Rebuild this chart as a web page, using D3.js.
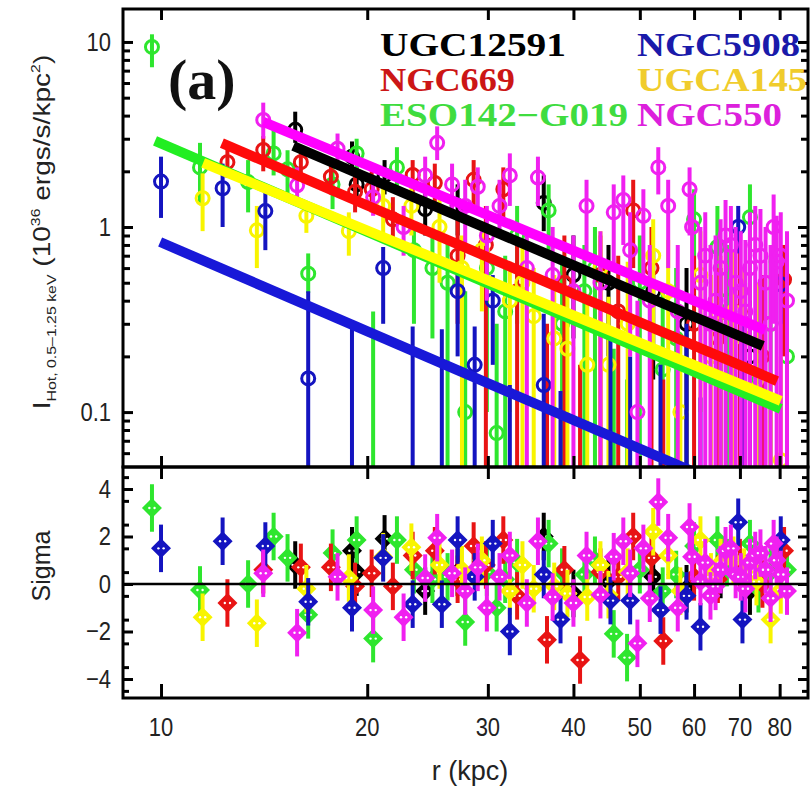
<!DOCTYPE html>
<html><head><meta charset="utf-8">
<script src="https://cdn.jsdelivr.net/npm/d3@7"></script>
<style>body{margin:0;background:#fff}svg{display:block}</style>
</head><body><svg id="c" width="810" height="788"></svg>
<script>
// ---------------- DATA ----------------
const galaxyNames = ["UGC12591","NGC669","ESO142\u2212G019","NGC5908","UGCA145","NGC550"];
// points: [r (kpc), I, I_low, I_high, sigma]
const UGC12591 = [
 [15.7,3.35,2.85,4.2,0.8],[19.0,2.4,2.0,2.9,1.4],[19.3,1.7,1.4,2.1,0.5],[21.2,1.9,1.5,2.3,1.9],
 [24.3,1.25,0.9,1.6,-0.3],[27.1,1.3,0.9,1.7,0.5],[36.2,1.35,0.95,1.9,2.0],[40.0,0.55,0.25,0.9,-0.4],
 [45.0,0.5,0.2,0.8,0.1],[52.3,0.45,0.15,0.75,0.3],[58.5,0.3,0.005,0.6,-0.2],[65.6,0.3,0.005,0.6,0.4],
 [72.4,0.2,0.005,0.5,-0.3]
];
const NGC669 = [
 [12.5,2.24,1.85,2.7,-0.8],[14.1,2.61,2.0,3.1,0.6],[16.0,2.24,1.8,2.7,0.7],[17.7,1.87,1.5,2.3,0.7],
 [19.2,1.55,1.2,1.9,-0.1],[20.3,1.6,1.2,2.0,0.45],[21.8,1.1,0.8,1.45,-0.1],[23.3,1.91,1.5,2.3,1.2],
 [25.1,1.73,1.35,2.2,1.4],[27.1,0.7,0.3,1.1,0.2],[28.6,1.8,1.3,2.3,1.6],[29.8,0.8,0.05,1.3,0.8],
 [31.6,1.6,1.1,2.1,1.85],[33.1,0.45,0.005,0.8,-0.5],[36.6,0.03,0.005,0.3,-2.35],[38.8,0.5,0.005,0.9,0.6],
 [40.9,0.02,0.005,0.18,-3.2],[43.8,0.55,0.005,0.9,0.5],[46.5,0.35,0.005,0.7,0.3],[48.9,1.23,0.6,1.8,2.0],
 [52.0,0.6,0.005,1.0,1.1],[54.1,0.03,0.005,0.15,-2.4],[60.0,0.3,0.005,0.7,0.3],[65.0,0.25,0.005,0.6,0.2],
 [70.0,0.35,0.005,0.8,0.9],[75.5,0.2,0.005,0.55,0.0],[81.2,0.52,0.2,0.8,1.4]
];
const ESO142 = [
 [9.7,9.4,7.3,11.0,3.2],[11.4,2.1,1.35,2.85,-0.25],[13.4,1.75,1.2,2.3,0.0],[14.6,2.5,1.9,3.6,2.0],
 [15.3,2.05,1.5,2.6,1.1],[16.4,0.56,0.44,0.72,-1.3],[17.8,1.7,1.25,2.2,1.3],[19.3,2.5,1.9,3.0,1.85],
 [20.4,0.04,0.01,0.35,-2.3],[22.1,2.1,1.6,2.7,1.85],[23.4,0.75,0.3,1.05,0.6],[24.9,0.6,0.25,0.9,0.2],
 [26.2,0.5,0.005,0.85,0.3],[27.8,0.1,0.01,0.45,-1.6],[29.9,0.6,0.1,0.9,0.5],[30.9,0.077,0.01,0.3,-1.0],
 [31.8,0.35,0.005,0.7,0.2],[33.1,0.9,0.3,1.3,0.9],[36.8,1.23,0.7,1.7,1.7],[38.5,0.3,0.005,0.65,0.5],
 [41.5,0.45,0.005,0.8,0.4],[43.0,0.6,0.005,1.0,1.0],[45.8,0.04,0.005,0.22,-2.1],[47.9,0.03,0.005,0.15,-3.1],
 [50.0,0.5,0.005,0.9,0.6],[54.0,0.17,0.005,0.45,-0.3],[56.5,0.25,0.005,0.6,0.4],[60.0,1.1,0.4,1.6,1.6],
 [64.9,0.78,0.2,1.3,1.85],[67.0,0.4,0.005,0.8,0.9],[72.4,1.13,0.4,1.7,1.7],[74.5,0.15,0.005,0.5,-0.2],
 [77.6,0.3,0.005,0.7,0.5],[82.0,0.2,0.005,0.5,0.6]
];
const NGC5908 = [
 [10.0,1.76,1.12,2.4,1.5],[12.3,1.62,1.0,2.2,1.8],[14.2,1.22,0.75,1.55,1.6],[16.4,0.152,0.01,0.45,-0.75],
 [19.0,0.03,0.01,0.31,-1.0],[21.1,0.6,0.3,0.78,1.1],[23.3,0.035,0.01,0.29,-0.85],[25.7,0.035,0.01,0.28,-0.85],
 [27.1,0.45,0.2,0.62,1.85],[28.7,0.18,0.01,0.29,0.3],[30.5,0.4,0.18,0.55,1.7],[32.3,0.02,0.005,0.14,-2.0],
 [36.2,0.14,0.01,0.34,0.4],[38.3,0.02,0.005,0.13,-1.5],[45.3,0.03,0.005,0.25,-0.7],[48.4,0.03,0.005,0.2,-0.7],
 [53.6,0.02,0.005,0.18,-1.1],[58.5,0.03,0.005,0.3,-0.5],[61.3,0.02,0.005,0.12,-1.8],[69.6,1.0,0.72,1.3,2.6],
 [70.6,0.02,0.005,0.3,-1.5],[80.3,0.49,0.3,0.72,1.85]
];
const UGCA145 = [
 [11.5,1.43,0.95,1.95,-1.4],[13.8,0.96,0.6,1.3,-1.65],[16.3,1.15,0.93,1.28,-0.2],[18.8,0.95,0.7,1.2,0.25],
 [21.1,1.3,0.9,1.7,1.15],[23.2,1.3,0.9,1.7,1.55],[25.5,1.0,0.5,1.4,0.8],[27.5,0.6,0.005,0.9,0.6],
 [29.4,0.75,0.35,1.0,1.0],[32.3,0.4,0.1,0.65,-0.3],[33.7,0.5,0.005,0.85,0.8],[35.0,0.33,0.005,0.6,-0.2],
 [37.5,0.25,0.005,0.55,-0.1],[39.2,0.22,0.005,0.45,-0.4],[41.9,0.18,0.005,0.4,-0.55],[43.8,0.6,0.005,0.95,0.8],
 [45.0,0.18,0.005,0.42,-0.45],[48.0,0.3,0.005,0.65,0.5],[52.3,0.7,0.2,1.1,2.2],[55.0,0.45,0.005,0.85,1.2],
 [57.3,0.1,0.005,0.25,-0.3],[61.3,0.55,0.1,0.95,1.85],[63.5,0.2,0.005,0.55,0.3],[65.6,0.3,0.005,0.7,0.9],
 [68.5,0.35,0.005,0.75,1.0],[71.0,0.25,0.005,0.6,0.5],[74.0,0.15,0.005,0.5,0.1],[77.6,0.04,0.005,0.15,-1.5],
 [80.3,0.055,0.005,0.2,-0.25]
];
const NGC550 = [
 [14.1,3.79,3.0,4.7,0.45],[15.8,1.68,1.3,2.1,-2.05],[18.1,2.65,2.1,3.2,0.3],[20.4,1.45,1.15,1.8,-1.1],
 [22.6,1.0,0.7,1.3,-1.4],[24.3,1.9,1.4,2.4,0.25],[25.3,2.85,2.3,3.5,1.95],[26.6,1.7,1.2,2.2,0.45],
 [27.8,1.3,0.8,1.8,-0.3],[29.0,1.65,1.2,2.1,0.7],[29.9,0.9,0.4,1.3,-1.0],[31.2,1.3,0.9,1.8,0.3],
 [32.3,1.9,1.3,2.5,1.2],[34.2,0.6,0.005,1.0,-0.8],[35.5,1.85,1.3,2.4,1.8],[37.3,0.55,0.005,1.0,-0.55],
 [40.0,0.45,0.005,0.9,-0.8],[41.8,1.3,0.7,1.8,1.2],[43.8,0.5,0.005,0.95,-0.45],[45.8,1.2,0.6,1.7,1.15],
 [47.3,1.4,0.8,1.9,1.8],[48.4,0.75,0.2,1.2,0.45],[49.6,0.1,0.005,0.4,-2.5],[50.6,1.15,0.5,1.6,1.5],
 [51.7,0.4,0.005,0.8,-0.6],[53.2,2.1,1.5,2.7,3.45],[55.0,1.3,0.6,1.8,1.95],[56.8,0.35,0.005,0.8,-1.0],
 [59.1,1.6,0.9,2.1,2.4],[59.6,1.0,0.4,1.5,1.15],[61.3,0.5,0.005,1.0,0.1],[62.3,0.7,0.005,1.2,0.9],
 [63.4,0.3,0.005,0.8,-0.5],[64.5,0.4,0.005,0.9,-0.1],[65.6,0.6,0.005,1.1,0.6],[66.7,0.9,0.01,1.4,1.4],
 [67.9,0.8,0.005,1.3,1.5],[69.0,0.5,0.005,1.0,0.4],[70.2,0.45,0.005,0.95,0.3],[71.3,0.35,0.005,0.85,-0.2],
 [72.4,0.6,0.005,1.2,0.9],[73.7,0.8,0.01,1.3,1.2],[75.0,0.7,0.005,1.25,1.3],[76.3,0.5,0.005,1.0,0.6],
 [77.6,0.3,0.005,0.8,-0.6],[78.4,1.0,0.3,1.5,1.7],[79.2,0.65,0.005,1.15,1.0],[80.3,0.7,0.005,1.2,0.4],
 [82.0,0.4,0.005,0.95,-0.3]
];
// fitted power-law lines: [r_start, I_start, r_end, I_end]
const fitUGC12591 = [15.6,2.74,75.6,0.228];
const fitNGC669   = [12.27,2.84,79.3,0.147];
const fitESO142   = [9.8,2.92,80.3,0.104];
const fitNGC5908  = [9.97,0.83,62,0.045];
const fitUGCA145  = [11.52,2.22,80.3,0.115];
const fitNGC550   = [14.1,3.70,76.2,0.277];
const xTickValues = [10,20,30,40,50,60,70,80];
const yTickValues = [10,1,0.1];
const yTickLabels = ["10","1","0.1"];
const sigmaTickValues = [4,2,0,-2,-4];
const sigmaTickLabels = ["4","2","0","\u22122","\u22124"];

// ---------------- STYLE ----------------
const seriesStyle = {
  "UGC12591":{pts:UGC12591, fit:fitUGC12591, c:"#000000", line:"#000000", text:"#000000"},
  "NGC669":{pts:NGC669, fit:fitNGC669, c:"#e81414", line:"#ff0a0a", text:"#cc1616"},
  "ESO142\u2212G019":{pts:ESO142, fit:fitESO142, c:"#2ee62e", line:"#22ee22", text:"#3fdc3f"},
  "NGC5908":{pts:NGC5908, fit:fitNGC5908, c:"#1414c0", line:"#1818d8", text:"#1a1aaa"},
  "UGCA145":{pts:UGCA145, fit:fitUGCA145, c:"#f8f400", line:"#ffff00", text:"#f0cc2c"},
  "NGC550":{pts:NGC550, fit:fitNGC550, c:"#f020f0", line:"#ff00ff", text:"#dc20dc"}
};
const pointOrder = ["UGC12591","ESO142\u2212G019","NGC669","UGCA145","NGC5908","NGC550"];
const lineOrder = ["NGC5908","ESO142\u2212G019","UGCA145","NGC669","NGC550","UGC12591"];

const svg = d3.select("#c");
const L=123, R=808, T=9, M=467, B=698;
const x = d3.scaleLog().domain([8.8, 88]).range([L, R]);
const yT = d3.scaleLog().domain([0.0505, 15.07]).range([M, T]);
const yS = d3.scaleLinear().domain([-4.8, 4.926]).range([B, M]);

const defs = svg.append("defs");
defs.append("clipPath").attr("id","clipT").append("rect").attr("x",L).attr("y",T).attr("width",R-L).attr("height",M-T);
defs.append("clipPath").attr("id","clipB").append("rect").attr("x",L).attr("y",M).attr("width",R-L).attr("height",B-M);

const gTop = svg.append("g").attr("clip-path","url(#clipT)");
const gBot = svg.append("g").attr("clip-path","url(#clipB)");
const lowClamp = v => Math.max(v, 0.01);

pointOrder.forEach(name => {
  const s = seriesStyle[name];
  const g = gTop.append("g");
  s.pts.forEach(d => {
    g.append("line").attr("x1",x(d[0])).attr("x2",x(d[0]))
      .attr("y1",yT(lowClamp(d[2]))).attr("y2",yT(d[3]))
      .attr("stroke",s.c).attr("stroke-width",4);
    g.append("circle").attr("cx",x(d[0])).attr("cy",yT(lowClamp(d[1]))).attr("r",6.5)
      .attr("fill","none").attr("stroke",s.c).attr("stroke-width",3);
  });
  const h = gBot.append("g");
  s.pts.forEach(d => {
    const cx = x(d[0]), cy = yS(d[4]);
    h.append("line").attr("x1",cx).attr("x2",cx).attr("y1",yS(d[4]-1)).attr("y2",yS(d[4]+1))
      .attr("stroke",s.c).attr("stroke-width",4);
    h.append("path").attr("d",`M${cx},${cy-10}L${cx+10},${cy}L${cx},${cy+10}L${cx-10},${cy}Z`).attr("fill",s.c);
    h.append("circle").attr("cx",cx-2.6).attr("cy",cy).attr("r",1.2).attr("fill","#fff");
    h.append("circle").attr("cx",cx+2.6).attr("cy",cy).attr("r",1.2).attr("fill","#fff");
  });
});

lineOrder.forEach(name => {
  const s = seriesStyle[name], f = s.fit;
  gTop.append("line").attr("x1",x(f[0])).attr("y1",yT(f[1])).attr("x2",x(f[2])).attr("y2",yT(f[3]))
    .attr("stroke",s.line).attr("stroke-width",10);
});

// zero line
svg.append("line").attr("x1",L).attr("x2",R).attr("y1",yS(0)).attr("y2",yS(0)).attr("stroke","#000").attr("stroke-width",2.5);

// frames
svg.append("rect").attr("x",L).attr("y",T).attr("width",R-L).attr("height",M-T).attr("fill","none").attr("stroke","#000").attr("stroke-width",3);
svg.append("rect").attr("x",L).attr("y",M).attr("width",R-L).attr("height",B-M).attr("fill","none").attr("stroke","#000").attr("stroke-width",3);

function styleAxis(g){ g.select(".domain").remove(); g.selectAll(".tick line").attr("stroke","#000").attr("stroke-width",3); g.selectAll("text").remove(); }

// x ticks
svg.append("g").attr("transform",`translate(0,${T})`).call(d3.axisBottom(x).tickValues(xTickValues).tickSize(11).tickFormat("")).call(styleAxis);
svg.append("g").attr("transform",`translate(0,${M})`).call(d3.axisTop(x).tickValues(xTickValues).tickSize(11).tickFormat("")).call(styleAxis);
svg.append("g").attr("transform",`translate(0,${M})`).call(d3.axisBottom(x).tickValues(xTickValues).tickSize(12).tickFormat("")).call(styleAxis);
svg.append("g").attr("transform",`translate(0,${B})`).call(d3.axisTop(x).tickValues(xTickValues).tickSize(14).tickFormat("")).call(styleAxis);

// y ticks top (log)
const yMinor = [];
[0.01,0.1,1,10].forEach(p => { for(let k=2;k<=9;k++){ const v=k*p; if(v>0.0505 && v<15.07) yMinor.push(v);} });
svg.append("g").attr("transform",`translate(${L},0)`).call(d3.axisRight(yT).tickValues(yTickValues).tickSize(10).tickFormat("")).call(styleAxis);
svg.append("g").attr("transform",`translate(${L},0)`).call(d3.axisRight(yT).tickValues(yMinor).tickSize(7).tickFormat("")).call(styleAxis);
svg.append("g").attr("transform",`translate(${R},0)`).call(d3.axisLeft(yT).tickValues(yTickValues).tickSize(10).tickFormat("")).call(styleAxis);
svg.append("g").attr("transform",`translate(${R},0)`).call(d3.axisLeft(yT).tickValues(yMinor).tickSize(7).tickFormat("")).call(styleAxis);
// y ticks bottom (sigma)
const sMinor = d3.range(-4.5,4.6,1);
svg.append("g").attr("transform",`translate(${L},0)`).call(d3.axisRight(yS).tickValues(sigmaTickValues).tickSize(10).tickFormat("")).call(styleAxis);
svg.append("g").attr("transform",`translate(${L},0)`).call(d3.axisRight(yS).tickValues(sMinor).tickSize(6).tickFormat("")).call(styleAxis);
svg.append("g").attr("transform",`translate(${R},0)`).call(d3.axisLeft(yS).tickValues(sigmaTickValues).tickSize(10).tickFormat("")).call(styleAxis);
svg.append("g").attr("transform",`translate(${R},0)`).call(d3.axisLeft(yS).tickValues(sMinor).tickSize(6).tickFormat("")).call(styleAxis);

// tick labels
const lab = svg.append("g").attr("font-family","'Liberation Sans',Arial,sans-serif").attr("font-size",22).attr("fill","#222");
xTickValues.forEach(v => {
  lab.append("text").attr("transform",`translate(${x(v)},736) scale(1,1.18)`).attr("text-anchor","middle").text(v);
});
yTickValues.forEach((v,i) => {
  lab.append("text").attr("transform",`translate(111,${yT(v)+9}) scale(1,1.18)`).attr("text-anchor","end").text(yTickLabels[i]);
});
sigmaTickValues.forEach((v,i) => {
  lab.append("text").attr("transform",`translate(111,${yS(v)+9}) scale(1,1.18)`).attr("text-anchor","end").text(sigmaTickLabels[i]);
});

// axis titles
svg.append("text").attr("x",470).attr("y",780).attr("text-anchor","middle")
  .attr("font-family","'Liberation Sans',Arial,sans-serif").attr("font-size",27).attr("fill","#222").text("r (kpc)");
svg.append("text").attr("transform","translate(50,566) rotate(-90)").attr("text-anchor","middle")
  .attr("font-family","'Liberation Sans',Arial,sans-serif").attr("font-size",25).attr("fill","#222").text("Sigma");
const yt = svg.append("text").attr("transform","translate(50,232) rotate(-90) scale(1.22,1)").attr("text-anchor","middle")
  .attr("font-family","'Liberation Sans',Arial,sans-serif").attr("font-size",23).attr("fill","#222");
yt.append("tspan").text("I");
yt.append("tspan").attr("font-size",13).attr("dy",6).text("Hot, 0.5\u20131.25 keV");
yt.append("tspan").attr("dy",-6).text(" (10");
yt.append("tspan").attr("font-size",13).attr("dy",-10).text("36");
yt.append("tspan").attr("dy",10).text(" ergs/s/kpc");
yt.append("tspan").attr("font-size",13).attr("dy",-10).text("2");
yt.append("tspan").attr("dy",10).text(")");

// panel label & legend
svg.append("text").attr("x",168).attr("y",99).attr("font-family","'Liberation Serif','Times New Roman',serif")
  .attr("font-weight","bold").attr("font-size",58).attr("fill","#111").text("(a)");
const legPos = [[380,56,186],[380,91,135],[380,126,248],[637,56,163],[637,91,170],[637,126,145]];
galaxyNames.forEach((n,i) => {
  svg.append("text").attr("x",legPos[i][0]).attr("y",legPos[i][1])
    .attr("textLength",legPos[i][2]).attr("lengthAdjust","spacingAndGlyphs")
    .attr("font-family","'Liberation Serif','Times New Roman',serif").attr("font-weight","bold")
    .attr("font-size",33).attr("fill",seriesStyle[n].text).text(n);
});
</script></body></html>
